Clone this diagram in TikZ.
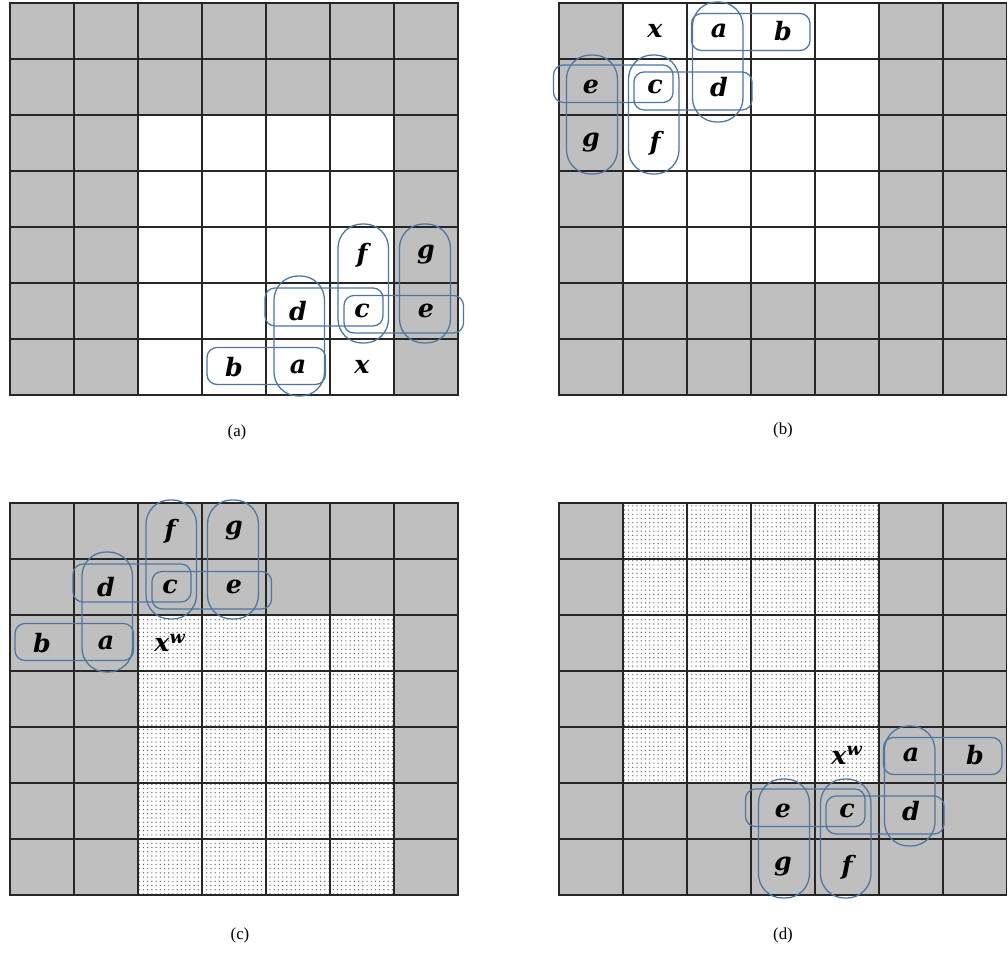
\documentclass[tikz,border=0pt]{standalone}
\usepackage{fontspec}
\setmainfont{Liberation Serif}
\newfontfamily\letterfont{DejaVu Serif}
\usetikzlibrary{patterns}
\definecolor{cellgray}{RGB}{191,191,191}
\definecolor{linkblue}{RGB}{78,116,160}

% letters of one neighbourhood and their linking boxes, drawn round the cell of x
\newcommand{\neighbours}[2]{%
  \node[cellchar] (#1-x) at (0,0){#2};
  \node[cellchar] (#1-a) at (-64,0){a}; \node[cellchar] (#1-b) at (-128,0){b};
  \node[cellchar] (#1-d) at (-64,56){d}; \node[cellchar] (#1-c) at (0,56){c}; \node[cellchar] (#1-e) at (64,56){e};
  \node[cellchar] (#1-f) at (0,112){f}; \node[cellchar] (#1-g) at (64,112){g};
  \draw[hbox] (-155,-17.5) rectangle (-36.5,19.5); \draw[vbox] (-88,-29) rectangle (-37.5,91);
  \draw[hbox] (-97,41) rectangle (21,79); \draw[vbox] (-24,24) rectangle (26.5,143);
  \draw[hbox] (-18,34) rectangle (101.5,71.5); \draw[vbox] (37.5,24) rectangle (88.5,143);}

\begin{document}
\begin{tikzpicture}[x=0.025cm,y=0.025cm,
  gridline/.style={draw=black!85,line width=1pt},
  cellchar/.style={inner sep=0pt,font=\letterfont\bfseries\itshape\fontsize{18}{20}\selectfont},
  hbox/.style={draw=linkblue,line width=0.9pt,rounded corners=0.25cm},
  vbox/.style={draw=linkblue,line width=0.9pt,rounded corners=0.6cm},
  dotted cells/.style={fill=white,postaction={pattern=dots,pattern color=black!60}},
  caption/.style={font=\fontsize{12}{14}\selectfont}]
\useasboundingbox (0,0) rectangle (1008,953);
% (a)
\begin{scope}[shift={(10,558)}]
\fill[cellgray] (0,0) rectangle (448,392); \fill[white] (128,0) rectangle (384,280);
\draw[gridline,xstep=1.6cm,ystep=1.4cm] (0,0) grid (448,392); \draw[gridline] (0,0) rectangle (448,392);
\end{scope}
\begin{scope}[shift={(362,586)}] \neighbours{pa}{x} \end{scope}
\node[caption] (cap-a) at (237,521){(a)};
% (b)
\begin{scope}[shift={(559,558)}]
\fill[cellgray] (0,0) rectangle (448,392); \fill[white] (64,112) rectangle (320,392);
\draw[gridline,xstep=1.6cm,ystep=1.4cm] (0,0) grid (448,392); \draw[gridline] (0,0) rectangle (447.5,392);
\end{scope}
\begin{scope}[shift={(655,922)},rotate=180] \neighbours{pb}{x} \end{scope}
\node[caption] (cap-b) at (783,523){(b)};
% (c)
\begin{scope}[shift={(10,58)}]
\fill[cellgray] (0,0) rectangle (448,392); \path[dotted cells] (128,0) rectangle (384,280);
\draw[gridline,xstep=1.6cm,ystep=1.4cm] (0,0) grid (448,392); \draw[gridline] (0,0) rectangle (448,392);
\end{scope}
\begin{scope}[shift={(170,310)}] \neighbours{pc}{x\textsuperscript{w}} \end{scope}
\node[caption] (cap-c) at (240,18){(c)};
% (d)
\begin{scope}[shift={(559,58)}]
\fill[cellgray] (0,0) rectangle (448,392); \path[dotted cells] (64,112) rectangle (320,392);
\draw[gridline,xstep=1.6cm,ystep=1.4cm] (0,0) grid (448,392); \draw[gridline] (0,0) rectangle (447.5,392);
\end{scope}
\begin{scope}[shift={(847,198)},rotate=180] \neighbours{pd}{x\textsuperscript{w}} \end{scope}
\node[caption] (cap-d) at (783,18){(d)};
\end{tikzpicture}
\end{document}
